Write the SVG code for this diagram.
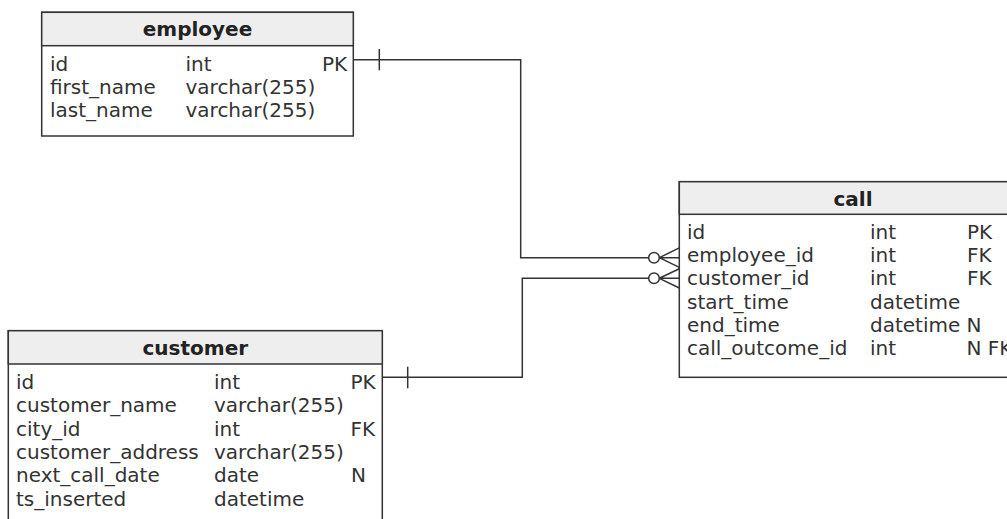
<svg xmlns="http://www.w3.org/2000/svg" width="1007" height="519" viewBox="0 0 1007 519">
<style>
  .box { fill: #ffffff; stroke: #333333; stroke-width: 1.5; }
  .hdr { fill: #eeeeee; stroke: #333333; stroke-width: 1.5; }
  .title { font-family: "DejaVu Sans", Verdana, sans-serif; font-size: 20px; font-weight: bold; fill: #222222; text-anchor: middle; }
  .t { font-family: "DejaVu Sans", Verdana, sans-serif; font-size: 20px; fill: #333333; }
  .conn { fill: none; stroke: #333333; stroke-width: 1.5; }
</style>
<rect width="1007" height="519" fill="#ffffff"/>

<g id="employee">
  <rect class="box" x="41.7" y="12.3" width="311.6" height="123.7"/>
  <rect class="hdr" x="41.7" y="12.3" width="311.6" height="33.4"/>
  <text class="title" x="197.5" y="36">employee</text>
  <text class="t" x="50" y="70.7">id</text>
  <text class="t" x="185.5" y="70.7">int</text>
  <text class="t" x="322" y="70.7">PK</text>
  <text class="t" x="50" y="94">first_name</text>
  <text class="t" x="185.5" y="94">varchar(255)</text>
  <text class="t" x="50" y="117.3">last_name</text>
  <text class="t" x="185.5" y="117.3">varchar(255)</text>
</g>

<g id="customer">
  <rect class="box" x="8.3" y="330.7" width="374" height="200"/>
  <rect class="hdr" x="8.3" y="330.7" width="374" height="33.3"/>
  <text class="title" x="195.3" y="355">customer</text>
  <text class="t" x="16" y="389">id</text>
  <text class="t" x="214" y="389">int</text>
  <text class="t" x="350.5" y="389">PK</text>
  <text class="t" x="16" y="412.3">customer_name</text>
  <text class="t" x="214" y="412.3">varchar(255)</text>
  <text class="t" x="16" y="435.6">city_id</text>
  <text class="t" x="214" y="435.6">int</text>
  <text class="t" x="350.5" y="435.6">FK</text>
  <text class="t" x="16" y="458.9">customer_address</text>
  <text class="t" x="214" y="458.9">varchar(255)</text>
  <text class="t" x="16" y="482.2">next_call_date</text>
  <text class="t" x="214" y="482.2">date</text>
  <text class="t" x="351" y="482.2">N</text>
  <text class="t" x="16" y="505.5">ts_inserted</text>
  <text class="t" x="214" y="505.5">datetime</text>
</g>

<g id="call">
  <rect class="box" x="679.3" y="181.7" width="350" height="195.6"/>
  <rect class="hdr" x="679.3" y="181.7" width="350" height="32.6"/>
  <text class="title" x="853" y="206">call</text>
  <text class="t" x="687" y="239">id</text>
  <text class="t" x="870" y="239">int</text>
  <text class="t" x="967" y="239">PK</text>
  <text class="t" x="687" y="262.2">employee_id</text>
  <text class="t" x="870" y="262.2">int</text>
  <text class="t" x="967" y="262.2">FK</text>
  <text class="t" x="687" y="285.4">customer_id</text>
  <text class="t" x="870" y="285.4">int</text>
  <text class="t" x="967" y="285.4">FK</text>
  <text class="t" x="687" y="308.7">start_time</text>
  <text class="t" x="870" y="308.7">datetime</text>
  <text class="t" x="687" y="332">end_time</text>
  <text class="t" x="870" y="332">datetime</text>
  <text class="t" x="966.5" y="332">N</text>
  <text class="t" x="687" y="355.2">call_outcome_id</text>
  <text class="t" x="870" y="355.2">int</text>
  <text class="t" x="966.5" y="355.2">N FK</text>
</g>

<g id="connectors">
  <!-- employee.id -> call.employee_id -->
  <path class="conn" d="M353.3,59.7 H520.7 V257.7 H648.7"/>
  <line class="conn" x1="379.3" y1="49" x2="379.3" y2="70.3"/>
  <circle class="conn" cx="654" cy="257.7" r="5.3"/>
  <path class="conn" d="M659.3,257.7 L679.3,247.9 M659.3,257.7 H679.3 M659.3,257.7 L679.3,267.4"/>
  <!-- customer.id -> call.customer_id -->
  <path class="conn" d="M382.3,377.3 H522.3 V278.3 H648.7"/>
  <line class="conn" x1="407.7" y1="366.7" x2="407.7" y2="388.3"/>
  <circle class="conn" cx="654" cy="278.3" r="5.3"/>
  <path class="conn" d="M659.3,278.3 L679.3,268.7 M659.3,278.3 H679.3 M659.3,278.3 L679.3,288"/>
</g>
</svg>
